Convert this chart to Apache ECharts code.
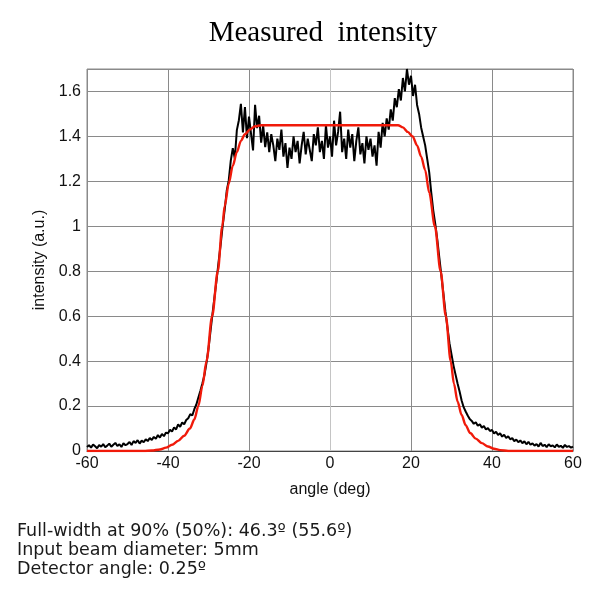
<!DOCTYPE html>
<html>
<head>
<meta charset="utf-8">
<script src="https://cdn.jsdelivr.net/npm/echarts@6/dist/echarts.min.js"></script>
<style>html,body{margin:0;padding:0;background:#fff}#c{width:600px;height:600px}</style>
</head>
<body>
<div id="c"></div>
<script>
// Measured (black) intensity, sampled every 0.5 deg from -60 to 60
const angleStart = -60;
const angleStep = 0.5;
const measured = [
  0.018, 0.026, 0.015, 0.029, 0.021, 0.012, 0.027, 0.019, 0.031, 0.017,
  0.024, 0.033, 0.019, 0.028, 0.036, 0.022, 0.030, 0.018, 0.034, 0.026,
  0.031, 0.040, 0.027, 0.044, 0.036, 0.048, 0.033, 0.046, 0.039, 0.052,
  0.044, 0.058, 0.049, 0.063, 0.054, 0.071, 0.060, 0.076, 0.066, 0.082,
  0.079, 0.094, 0.087, 0.105, 0.096, 0.118, 0.108, 0.127, 0.119, 0.138,
  0.146, 0.164, 0.158, 0.186, 0.207, 0.238, 0.268, 0.302, 0.338, 0.392,
  0.455, 0.534, 0.612, 0.688, 0.762, 0.843, 0.918, 1.003, 1.074, 1.158,
  1.204, 1.292, 1.348, 1.302, 1.428, 1.472, 1.545, 1.418, 1.531, 1.392,
  1.488, 1.412, 1.338, 1.541, 1.437, 1.492, 1.372, 1.448, 1.352, 1.418,
  1.33, 1.41, 1.36, 1.29, 1.39, 1.34, 1.43, 1.31, 1.37, 1.26,
  1.35, 1.30, 1.40, 1.33, 1.38, 1.28, 1.36, 1.42, 1.32, 1.39,
  1.34, 1.29, 1.41, 1.36, 1.44, 1.33, 1.38, 1.30, 1.45, 1.35,
  1.40, 1.31, 1.47, 1.36, 1.42, 1.51, 1.33, 1.39, 1.30, 1.43,
  1.35, 1.41, 1.29, 1.38, 1.44, 1.32, 1.37, 1.28, 1.40, 1.34,
  1.39, 1.31, 1.36, 1.27, 1.42, 1.35, 1.46, 1.40, 1.48, 1.43,
  1.52, 1.47, 1.57, 1.53, 1.61, 1.56, 1.66, 1.60, 1.70, 1.63,
  1.67, 1.58, 1.63, 1.54, 1.50, 1.44, 1.40, 1.36, 1.30, 1.24,
  1.15, 1.07, 1.01, 0.94, 0.86, 0.78, 0.70, 0.62, 0.55, 0.48,
  0.43, 0.38, 0.34, 0.30, 0.265, 0.225, 0.195, 0.176, 0.158, 0.142,
  0.134, 0.121, 0.128, 0.112, 0.119, 0.104, 0.111, 0.096, 0.102, 0.089,
  0.094, 0.078, 0.086, 0.071, 0.079, 0.064, 0.072, 0.058, 0.066, 0.052,
  0.057, 0.044, 0.051, 0.039, 0.047, 0.035, 0.043, 0.030, 0.041, 0.028,
  0.034, 0.024, 0.031, 0.020, 0.036, 0.022, 0.028, 0.017, 0.030, 0.021,
  0.025, 0.016, 0.029, 0.019, 0.023, 0.014, 0.027, 0.018, 0.022, 0.015,
  0.020
];
// Model (red) curve: [angle, intensity]
const modelAngles = [-60, -46, -44, -42, -40.5, -39, -37.5, -36, -34.6, -33.5, -32.5, -31.5, -30.5, -29.1, -27.7, -26.6, -26, -25, -24, -23, -22, -21, -19.8, -18.5, -17,
  16.8, 18, 19.2, 20.4, 21.5, 22.5, 23.5, 24.5, 25.9, 27.3, 28.6, 29.8, 30.6, 31.5, 32.5, 33.5, 34.6, 36, 37.5, 39, 40.5, 42, 44, 60];
const modelValues = [0, 0, 0.002, 0.007, 0.015, 0.028, 0.045, 0.068, 0.1, 0.14, 0.2, 0.29, 0.4, 0.6, 0.8, 1.0, 1.09, 1.19, 1.27, 1.33, 1.38, 1.41, 1.43, 1.445, 1.45,
  1.45, 1.44, 1.42, 1.4, 1.36, 1.31, 1.25, 1.15, 1.0, 0.8, 0.6, 0.4, 0.3, 0.22, 0.16, 0.115, 0.08, 0.055, 0.035, 0.02, 0.01, 0.004, 0, 0];
const xTicks = { min: -60, max: 60, interval: 20 };
const yTicks = { min: 0, max: 1.7, interval: 0.2 };
const titleText = 'Measured  intensity';
const xName = 'angle (deg)';
const yName = 'intensity (a.u.)';
const notes = ['Full-width at 90% (50%): 46.3º (55.6º)', 'Input beam diameter: 5mm', 'Detector angle: 0.25º'];

const measuredData = measured.map((v, i) => [angleStart + i * angleStep, v]);
const modelData = modelAngles.map((a, i) => [a, modelValues[i]]);

const chart = echarts.init(document.getElementById('c'), null, { renderer: 'canvas' });
chart.setOption({
  animation: false,
  backgroundColor: '#fff',
  title: {
    text: titleText, left: 318, top: 14, textAlign: 'center',
    textStyle: { fontFamily: 'Liberation Serif', fontSize: 29, fontWeight: 'normal', color: '#000' }
  },
  grid: { left: 87, right: 27, top: 69, bottom: 149, show: true, borderColor: '#8a8a8a', borderWidth: 1 },
  xAxis: {
    type: 'value', min: xTicks.min, max: xTicks.max, interval: xTicks.interval,
    name: xName, nameLocation: 'middle', nameGap: 31,
    nameTextStyle: { fontFamily: 'Liberation Sans', fontSize: 16, color: '#111' },
    axisLine: { show: true, lineStyle: { color: '#444', width: 1 } },
    axisTick: { show: false },
    axisLabel: { fontFamily: 'Liberation Sans', fontSize: 16, color: '#111', margin: 5 },
    splitLine: { show: true, lineStyle: { color: '#8a8a8a', width: 1 } }
  },
  yAxis: {
    type: 'value', min: yTicks.min, max: yTicks.max, interval: yTicks.interval,
    name: yName, nameLocation: 'middle', nameGap: 38, nameRotate: 90,
    nameTextStyle: { fontFamily: 'Liberation Sans', fontSize: 16, color: '#111' },
    axisLine: { show: true, lineStyle: { color: '#c4c4c4', width: 1 } },
    axisTick: { show: false },
    axisLabel: {
      fontFamily: 'Liberation Sans', fontSize: 16, color: '#111', margin: 6,
      formatter: v => (v > 1.65 ? '' : String(Math.round(v * 10) / 10))
    },
    splitLine: { show: true, lineStyle: { color: '#8a8a8a', width: 1 } }
  },
  series: [
    { type: 'line', data: measuredData, showSymbol: false, lineStyle: { color: '#000', width: 2 }, z: 2 },
    { type: 'line', data: modelData, showSymbol: false, smooth: 0.3, smoothMonotone: 'x', lineStyle: { color: '#f01a0a', width: 2.4 }, z: 3 }
  ],
  graphic: notes.map((t, i) => ({
    type: 'text', left: 17, top: 522 + i * 19,
    style: { text: t, fontFamily: 'DejaVu Sans', fontSize: 17.5, fill: '#1a1a1a' }
  }))
});
</script>
</body>
</html>
